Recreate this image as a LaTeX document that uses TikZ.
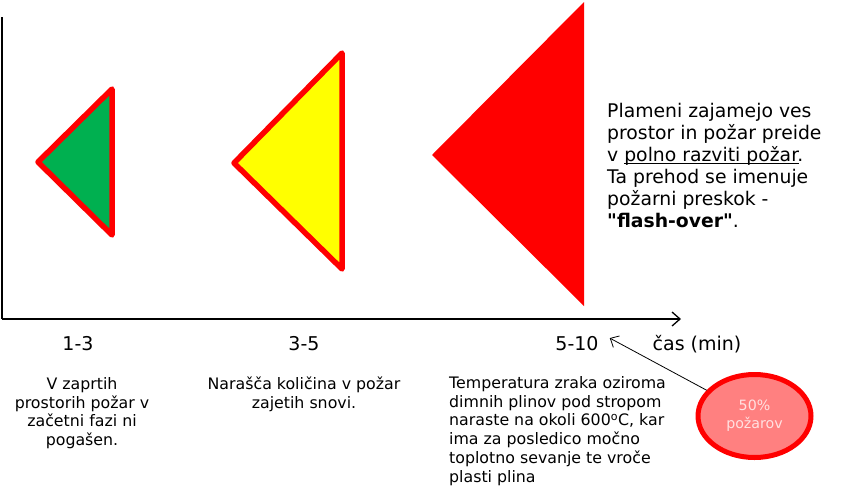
\documentclass[tikz,border=0pt]{standalone}
\usepackage{fontspec}
\setmainfont{DejaVu Sans}
\usepackage{xcolor}
\usetikzlibrary{positioning, arrows.meta, shapes.geometric, calc}

\definecolor{fazagreen}{RGB}{0,176,80}
\definecolor{fazayellow}{RGB}{255,255,0}
\definecolor{fazared}{RGB}{255,0,0}
\definecolor{salmon}{RGB}{255,128,128}
\definecolor{palepink}{RGB}{255,225,225}

% podcrtano besedilo tik pod osnovno crto
\newcommand{\podcrtaj}[1]{\setbox0\hbox{#1}\rlap{\rule[-2.2pt]{\wd0}{0.9pt}}#1}

\begin{document}
\begin{tikzpicture}[
    x=1pt, y=-1pt,
    axis/.style={line width=1.3pt, black},
    faza/.style={draw=fazared, line width=5.5pt, line join=round},
    cas/.style={anchor=base, inner sep=0pt, font=\fontsize{19}{22}\selectfont},
    opis/.style={inner sep=0pt, font=\fontsize{15.8}{18.8}\selectfont},
    arrow/.style={-{Straight Barb[length=7pt,width=13pt]}, line width=0.8pt}
]
\useasboundingbox (0,0) rectangle (841,496);

% --- Osi ---
\coordinate (origin) at (2,319);
\coordinate (top) at (2,17);
\coordinate (xend) at (681,319);
\draw[axis] (top) -- (origin);
\draw[axis, -{Straight Barb[length=8pt,width=14pt]}] (origin) -- (xend);

% --- Trikotniki (faze) ---
\draw[faza, fill=fazagreen] (38,162) -- (112,89) -- (112,235) -- cycle;
\draw[faza, fill=fazayellow] (234,163) -- (342,53) -- (342,269) -- cycle;
\fill[fazared] (432,155) -- (584,2) -- (584,306) -- cycle;

% --- Casovne oznake ---
\node[cas] (t1) at (78,350) {1-3};
\node[cas] (t2) at (304,350) {3-5};
\node[cas] (t3) at (577,350) {5-10};
\node[cas] (caslabel) at (697,350) {čas (min)};

% --- Opisi ---
\node[opis, align=center, anchor=north] (op1) at (82,377)
    {V zaprtih\\prostorih požar v\\začetni fazi ni\\pogašen.};
\node[opis, align=center, anchor=north] (op2) at (304,377)
    {Narašča količina v požar\\zajetih snovi.};
\node[opis, align=left, anchor=north west] (op3) at (449,376)
    {Temperatura zraka oziroma\\dimnih plinov pod stropom\\naraste na okoli 600\textsuperscript{o}C, kar\\ima za posledico močno\\toplotno sevanje te vroče\\plasti plina};

\node[inner sep=0pt, align=left, anchor=north west,
      font=\fontsize{18.8}{22}\selectfont] (flash) at (607,103)
    {Plameni zajamejo ves\\prostor in požar preide\\v \podcrtaj{polno razviti požar}.\\Ta prehod se imenuje\\požarni preskok -\\\textbf{\textquotedbl flash-over\textquotedbl}.};

% --- Delez pozarov ---
\node[ellipse, draw=fazared, fill=salmon, line width=5pt,
      minimum width=113pt, minimum height=83pt, align=center,
      text=palepink, font=\fontsize{14.2}{18}\selectfont] (delez) at (754.5,416)
    {50\%\\požarov};
\coordinate (cilj) at ($(t3.east)+(11,-5)$);
\draw[arrow] (delez) -- (cilj);

\end{tikzpicture}
\end{document}
